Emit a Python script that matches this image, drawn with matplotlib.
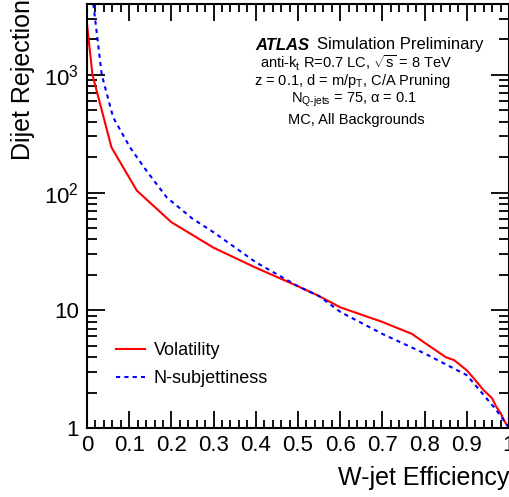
import matplotlib
matplotlib.use("Agg")
import matplotlib.pyplot as plt
from matplotlib.ticker import FixedLocator, FixedFormatter, MultipleLocator, LogLocator, NullFormatter

plt.rcParams['font.family'] = ['Liberation Sans', 'DejaVu Sans']
plt.rcParams['mathtext.fontset'] = 'custom'
plt.rcParams['mathtext.rm'] = 'Liberation Sans'
plt.rcParams['mathtext.it'] = 'Liberation Sans:italic'
plt.rcParams['mathtext.bf'] = 'Liberation Sans:bold'

# Volatility (red, solid)
vol_eff = [0.0, 0.013, 0.058, 0.118, 0.2, 0.3, 0.4, 0.5, 0.55, 0.6, 0.7, 0.77, 0.8,
           0.85, 0.87, 0.9, 0.92, 0.94, 0.96, 0.97, 0.98, 0.99, 1.0]
vol_rej = [2700, 1000, 242, 104, 56, 34, 23, 16, 13.2, 10.6, 7.96, 6.3, 5.3,
           4.0, 3.77, 3.09, 2.55, 2.09, 1.79, 1.51, 1.34, 1.13, 1.0]

# N-subjettiness (blue, dashed)
nsub_eff = [0.015, 0.035, 0.062, 0.102, 0.141, 0.189, 0.25, 0.3, 0.4, 0.5, 0.55, 0.6,
            0.7, 0.8, 0.9, 0.95, 0.97, 0.99, 1.0]
nsub_rej = [4000, 1000, 435, 242, 153, 91, 60, 46, 25.6, 16, 13.2, 9.7,
            6.3, 4.3, 2.81, 1.73, 1.42, 1.13, 1.0]

ytick_vals = [1, 10, 100, 1000]
ytick_labels = ['1', '10', '$10^2$', '$10^3$']
xtick_vals = [0, 0.1, 0.2, 0.3, 0.4, 0.5, 0.6, 0.7, 0.8, 0.9, 1.0]
xtick_labels = ['0', '0.1', '0.2', '0.3', '0.4', '0.5', '0.6', '0.7', '0.8', '0.9', '1']

fig = plt.figure(figsize=(5.09, 4.97), dpi=100)
ax = fig.add_axes([87/509, 69/497, 422/509, 424/497])

ax.plot(vol_eff, vol_rej, color='#ff0000', lw=1.5, label='Volatility')
ax.plot(nsub_eff, nsub_rej, color='#0000ff', lw=1.5, ls=(0, (2, 2)), label='N-subjettiness')

ax.set_yscale('log')
ax.set_xlim(0, 1)
ax.set_ylim(1, 4000)

ax.xaxis.set_major_locator(FixedLocator(xtick_vals))
ax.xaxis.set_major_formatter(FixedFormatter(xtick_labels))
ax.xaxis.set_minor_locator(MultipleLocator(0.02))
ax.yaxis.set_major_locator(FixedLocator(ytick_vals))
ax.yaxis.set_major_formatter(FixedFormatter(ytick_labels))
ax.yaxis.set_minor_locator(LogLocator(base=10, subs=range(2, 10)))
ax.yaxis.set_minor_formatter(NullFormatter())

ax.tick_params(which='both', direction='in', top=True, right=True, width=1.3, labelsize=16)
ax.tick_params(axis='x', which='major', length=12, pad=5)
ax.tick_params(axis='x', which='minor', length=6)
ax.tick_params(axis='y', which='major', length=13, pad=6)
ax.tick_params(axis='y', which='minor', length=7)
for s in ax.spines.values():
    s.set_linewidth(1.5)

fig.text(11/509, 1 - 160/497, 'Dijet Rejection', rotation=90, ha='left', va='bottom', fontsize=18)
fig.text(509/509, 1 - 478/497, 'W-jet Efficiency', ha='right', va='center', fontsize=18)

cx = 356 / 509
fig.text(309/509, 1 - 45/497, 'ATLAS', ha='right', va='center', fontsize=12,
         fontweight='bold', fontstyle='italic')
fig.text(317/509, 1 - 45/497, 'Simulation Preliminary', ha='left', va='center', fontsize=12)
fig.text(cx, 1 - 63/497, r'anti-k$_{\mathrm{t}}$ R=0.7 LC, $\sqrt{\mathrm{s}}$ = 8 TeV', ha='center', va='center', fontsize=10.5)
fig.text(cx - 4/509, 1 - 81/497, r'z = 0.1, d = m/p$_{\mathrm{T}}$, C/A Pruning', ha='center', va='center', fontsize=10.5)
fig.text(cx - 2/509, 1 - 100/497, r'N$_{\mathrm{Q\text{-}jets}}$ = 75, α = 0.1', ha='center', va='center', fontsize=10.5)
fig.text(cx, 1 - 120/497, 'MC, All Backgrounds', ha='center', va='center', fontsize=10.5)

ax.legend(loc='upper left', bbox_to_anchor=(29/422, 1 - 338/424), frameon=False,
          fontsize=13, handlelength=1.6, handletextpad=0.5, labelspacing=0.6,
          borderaxespad=0, borderpad=0)

fig.savefig('out.png', dpi=100)
